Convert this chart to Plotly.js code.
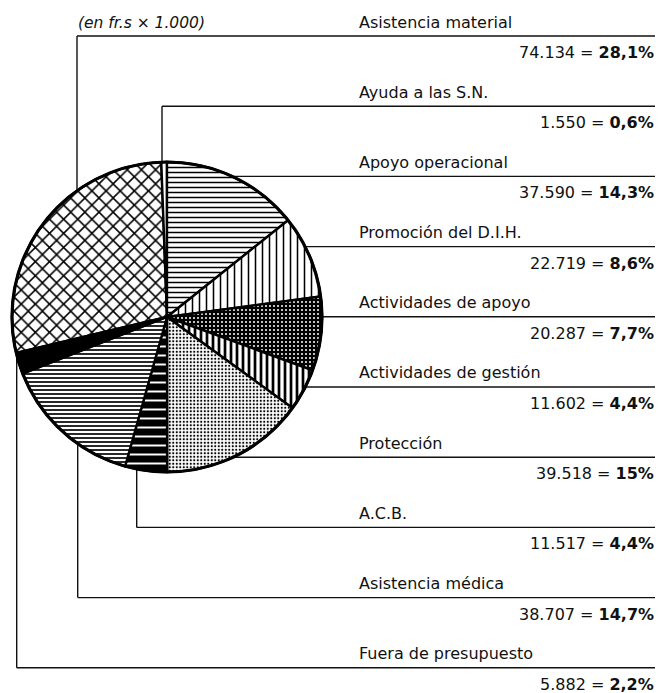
<!DOCTYPE html>
<html>
<head>
<meta charset="utf-8">
<script src="https://cdn.plot.ly/plotly-3.0.1.min.js"></script>
<style>html,body{margin:0;padding:0;background:#fff;}#chart{width:660px;height:693px;}</style>
</head>
<body>
<div id="chart"></div>
<script>
// ---- data ----
const categories = ["Asistencia material","Ayuda a las S.N.","Apoyo operacional","Promoción del D.I.H.","Actividades de apoyo","Actividades de gestión","Protección","A.C.B.","Asistencia médica","Fuera de presupuesto"];
const values = [74134, 1550, 37590, 22719, 20287, 11602, 39518, 11517, 38707, 5882];
const pctLabels = ["28,1%","0,6%","14,3%","8,6%","7,7%","4,4%","15%","4,4%","14,7%","2,2%"];
const unitNote = "(en fr.s × 1.000)";

// ---- styles ----
const patShape = ["x","","-","|",".","|",".","-","-",""];
const patSize  = [10, 8, 5, 7, 4, 6, 3.5, 9, 4, 8];
const patSolid = [0.28, 0.3, 0.3, 0.22, 0.2, 0.45, 0.3, 0.22, 0.42, 0.3];
const patBg    = ["#fff","#fff","#fff","#fff","#000","#fff","#fff","#000","#fff","#000"];
const patFg    = ["#000","#000","#000","#000","#fff","#000","#000","#fff","#000","#000"];

// ---- geometry (layout) ----
const W = 660, H = 693;
const CX = 167, CY = 317, R = 155;
const rowY0 = 36, rowStep = 70.2;
const elbowX = [77, 162, null, null, null, null, null, 136.7, 77.7, 16.7];
const lineRight = 655, labelLeft = 357;
const px = x => x / W, py = y => 1 - y / H;

const total = values.reduce((a, b) => a + b, 0);
const before = values[0] + values[1];
const rotation = -before / total * 360;

function fmtNum(v) {
  return String(v).replace(/\B(?=(\d{3})+(?!\d))/g, ".");
}

const shapes = [];
const annotations = [];
const lineStyle = {color: "#111", width: 1.4};
categories.forEach((c, i) => {
  const y = rowY0 + i * rowStep;
  let startX;
  if (elbowX[i] !== null) {
    const x = elbowX[i];
    const dy = Math.sqrt(Math.max(0, R * R - (x - CX) * (x - CX)));
    const yEdge = y < CY ? CY - dy : CY + dy;
    shapes.push({type: "line", xref: "paper", yref: "paper", x0: px(x), x1: px(x), y0: py(yEdge), y1: py(y), line: lineStyle});
    startX = x;
  } else {
    const dx = Math.sqrt(Math.max(0, R * R - (y - CY) * (y - CY)));
    startX = CX + dx;
  }
  shapes.push({type: "line", xref: "paper", yref: "paper", x0: px(startX), x1: px(lineRight), y0: py(y), y1: py(y), line: lineStyle});
  annotations.push({xref: "paper", yref: "paper", x: px(labelLeft), y: py(y - 14), xanchor: "left", yanchor: "middle", showarrow: false, text: c, font: {family: "DejaVu Sans", size: 16, color: "#111"}});
  annotations.push({xref: "paper", yref: "paper", x: px(lineRight + 1), y: py(y + 16.5), xanchor: "right", yanchor: "middle", showarrow: false, text: fmtNum(values[i]) + " = <b>" + pctLabels[i] + "</b>", font: {family: "DejaVu Sans", size: 16, color: "#111"}});
});
annotations.push({xref: "paper", yref: "paper", x: px(76), y: py(23), xanchor: "left", yanchor: "middle", showarrow: false, text: "<i>" + unitNote + "</i>", font: {family: "DejaVu Sans", size: 15.5, color: "#111"}});

shapes.push({type: "circle", xref: "paper", yref: "paper", x0: px(CX - R), x1: px(CX + R), y0: py(CY + R), y1: py(CY - R), line: {color: "#000", width: 3.2}});

const trace = {
  type: "pie",
  labels: categories,
  values: values,
  sort: false,
  direction: "clockwise",
  rotation: rotation,
  textinfo: "none",
  hoverinfo: "skip",
  showlegend: false,
  domain: {x: [px(CX - R), px(CX + R)], y: [py(CY + R), py(CY - R)]},
  marker: {
    colors: patBg,
    line: {color: "#000", width: 2.4},
    pattern: {shape: patShape, size: patSize, solidity: patSolid, bgcolor: patBg, fgcolor: patFg, fillmode: "replace"}
  }
};

const layout = {
  width: W, height: H,
  margin: {l: 0, r: 0, t: 0, b: 0},
  paper_bgcolor: "#fff",
  plot_bgcolor: "#fff",
  shapes: shapes,
  annotations: annotations,
  showlegend: false
};

Plotly.newPlot("chart", [trace], layout, {displayModeBar: false, staticPlot: true});
</script>
</body>
</html>
